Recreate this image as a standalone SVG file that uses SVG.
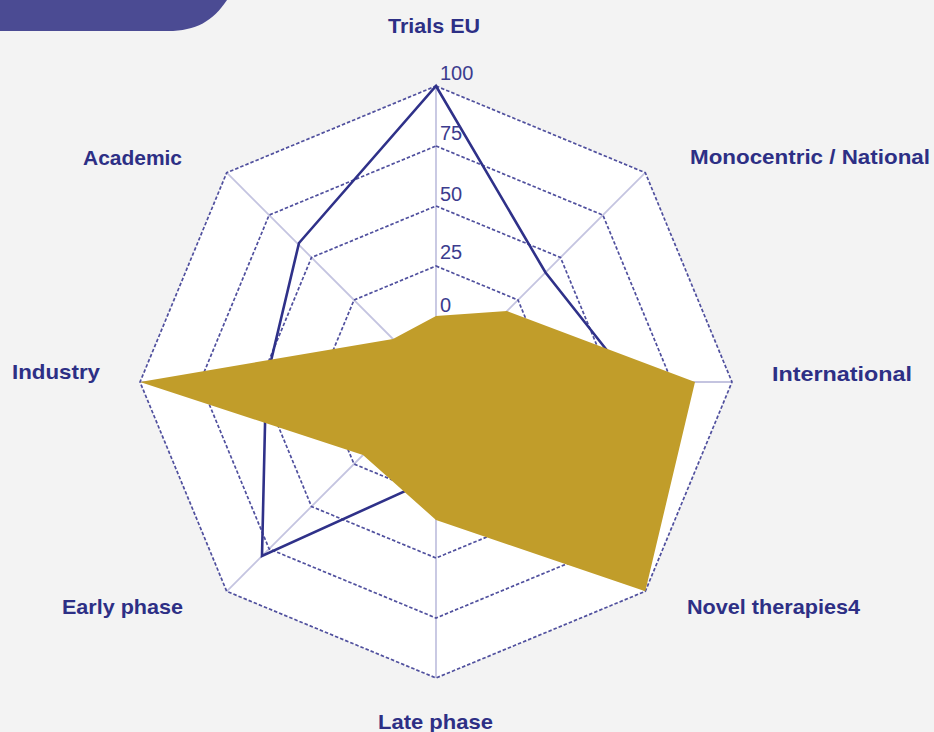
<svg xmlns="http://www.w3.org/2000/svg" width="934" height="732" viewBox="0 0 934 732">
  <style>
    .ring { fill: none; stroke: #50509e; stroke-width: 1.7; stroke-dasharray: 3.5 2; }
    .spoke { stroke: #c4c4e0; stroke-width: 1.8; }
    .lbl { font-family: "Liberation Sans", Arial, sans-serif; font-weight: bold; font-size: 21px; fill: #2d2f85; }
    .tick { font-family: "Liberation Sans", Arial, sans-serif; font-size: 20px; fill: #3c3c8e; }
  </style>
  <rect x="0" y="0" width="934" height="732" fill="#f3f3f3"/>
  <path id="banner" d="M0,0 H227 C213,21 196,31 168,31 H0 Z" fill="#4b4b93"/>

  <g id="grid">
    <polygon points="436,86 645.3,172.7 732,382 645.3,591.3 436,678 226.7,591.3 140,382 226.7,172.7" fill="#ffffff"/>
    <g id="spokes">
      <line class="spoke" x1="436" y1="382" x2="436" y2="86"/>
      <line class="spoke" x1="436" y1="382" x2="645.3" y2="172.7"/>
      <line class="spoke" x1="436" y1="382" x2="732" y2="382"/>
      <line class="spoke" x1="436" y1="382" x2="645.3" y2="591.3"/>
      <line class="spoke" x1="436" y1="382" x2="436" y2="678"/>
      <line class="spoke" x1="436" y1="382" x2="226.7" y2="591.3"/>
      <line class="spoke" x1="436" y1="382" x2="140" y2="382"/>
      <line class="spoke" x1="436" y1="382" x2="226.7" y2="172.7"/>
    </g>
    <polygon class="ring" points="436,326 475.6,342.4 492,382 475.6,421.6 436,438 396.4,421.6 380,382 396.4,342.4"/>
    <polygon class="ring" points="436,266 518,300 552,382 518,464 436,498 354,464 320,382 354,300"/>
    <polygon class="ring" points="436,206 560.5,257.5 612,382 560.5,506.5 436,558 311.5,506.5 260,382 311.5,257.5"/>
    <polygon class="ring" points="436,146 602.9,215.1 672,382 602.9,548.9 436,618 269.1,548.9 200,382 269.1,215.1"/>
    <polygon class="ring" points="436,86 645.3,172.7 732,382 645.3,591.3 436,678 226.7,591.3 140,382 226.7,172.7"/>
  </g>

  <g id="connectors">
    <polygon id="series-navy" points="436,86 545.5,272.5 632,382 560,507 436,477 262,556 266,382 299,243" fill="none" stroke="#2f3189" stroke-width="2.6" stroke-linejoin="miter"/>
    <polygon id="series-gold" points="436,316 507,311 695,382 645.3,591.3 436,520 363,455 140,382 393,339" fill="#c19d2a"/>
  </g>

  <g id="ticks">
    <text class="tick" x="440" y="80">100</text>
    <text class="tick" x="440" y="140">75</text>
    <text class="tick" x="440" y="201">50</text>
    <text class="tick" x="440" y="259">25</text>
    <text class="tick" x="440" y="312">0</text>
  </g>

  <g id="node-trials-eu"><text class="lbl" x="388" y="33" textLength="92" lengthAdjust="spacingAndGlyphs">Trials EU</text></g>
  <g id="node-monocentric"><text class="lbl" x="690" y="164" textLength="240" lengthAdjust="spacingAndGlyphs">Monocentric / National</text></g>
  <g id="node-international"><text class="lbl" x="772" y="381" textLength="140" lengthAdjust="spacingAndGlyphs">International</text></g>
  <g id="node-novel"><text class="lbl" x="687" y="614" textLength="173" lengthAdjust="spacingAndGlyphs">Novel therapies4</text></g>
  <g id="node-late"><text class="lbl" x="378" y="729" textLength="115" lengthAdjust="spacingAndGlyphs">Late phase</text></g>
  <g id="node-early"><text class="lbl" x="62" y="614" textLength="121" lengthAdjust="spacingAndGlyphs">Early phase</text></g>
  <g id="node-industry"><text class="lbl" x="12" y="379" textLength="88" lengthAdjust="spacingAndGlyphs">Industry</text></g>
  <g id="node-academic"><text class="lbl" x="83" y="165" textLength="99" lengthAdjust="spacingAndGlyphs">Academic</text></g>
</svg>
